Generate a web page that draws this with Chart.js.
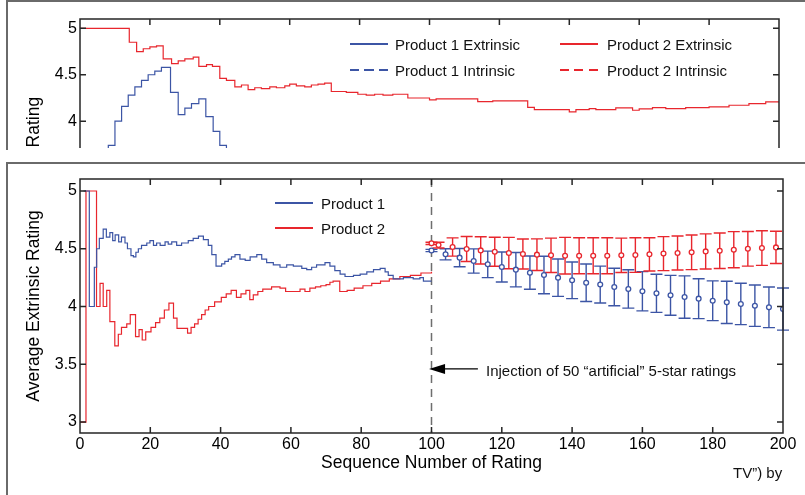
<!DOCTYPE html>
<html>
<head>
<meta charset="utf-8">
<script src="https://cdn.jsdelivr.net/npm/chart.js@4.4.1/dist/chart.umd.min.js"></script>
<style>
html, body { margin: 0; padding: 0; background: #fff; }
body { width: 805px; height: 495px; position: relative; overflow: hidden;
       font-family: "Liberation Sans", Arial, Helvetica, sans-serif; color: #111; }
.panel { position: absolute; border-left: 2px solid #6a6a6a; border-top: 2px solid #6a6a6a; }
#topPanel { left: 6px; top: 0; width: 805px; height: 148px; }
#botPanel { left: 6px; top: 162px; width: 805px; height: 340px; }
#topWrap { position: absolute; left: 0; top: 0; width: 805px; height: 148px; overflow: hidden; }
#botWrap { position: absolute; left: 0; top: 163px; width: 805px; height: 332px; }
.txt { position: absolute; font-size: 15px; line-height: 15px; white-space: nowrap; }
.sw { position: absolute; width: 38px; height: 2px; }
</style>
</head>
<body>
<div class="panel" id="topPanel"></div>
<div class="panel" id="botPanel"></div>
<div id="topWrap"><canvas id="topChart" width="805" height="310"></canvas></div>
<div id="botWrap"><canvas id="botChart" width="805" height="332"></canvas></div>

<!-- top legend -->
<div class="sw" style="left:350px;top:43px;background:#3c55a5"></div>
<div class="txt" style="left:395px;top:37px">Product 1 Extrinsic</div>
<div class="sw" style="left:350px;top:69px;background:repeating-linear-gradient(to right,#3c55a5 0 9px,transparent 9px 14.5px)"></div>
<div class="txt" style="left:395px;top:63px">Product 1 Intrinsic</div>
<div class="sw" style="left:560px;top:43px;background:#e8262d"></div>
<div class="txt" style="left:607px;top:37px">Product 2 Extrinsic</div>
<div class="sw" style="left:560px;top:69px;background:repeating-linear-gradient(to right,#e8262d 0 9px,transparent 9px 14.5px)"></div>
<div class="txt" style="left:607px;top:63px">Product 2 Intrinsic</div>

<!-- bottom legend -->
<div class="sw" style="left:275px;top:202px;background:#3c55a5"></div>
<div class="txt" style="left:321px;top:196px">Product 1</div>
<div class="sw" style="left:275px;top:227px;background:#e8262d"></div>
<div class="txt" style="left:321px;top:221px">Product 2</div>

<div class="txt" style="left:486px;top:363px">Injection of 50 “artificial” 5-star ratings</div>
<div class="txt" style="left:733px;top:465px">TV”) by</div>

<script>
const BLUE = '#3c55a5';
const RED = '#e8262d';
const FONT = '"Liberation Sans", Arial, Helvetica, sans-serif';

const xTicks = [0, 20, 40, 60, 80, 100, 120, 140, 160, 180, 200];
const yTicks = [3, 3.5, 4, 4.5, 5];

// top panel: running average of all ratings
const p1SeqTop = [4, 8.1, 10.0, 11.9, 13.8, 15.7, 17.6, 19.5, 21.4, 23.3, 25.9, 28.1, 30.0, 31.9, 34.0, 36.0, 38.1, 40.0, 41.9, 44];
const p1AvgTop = [3.5, 3.74, 4.0, 4.16, 4.28, 4.37, 4.44, 4.5, 4.54, 4.58, 4.31, 4.07, 4.14, 4.19, 4.24, 4.05, 3.89, 3.74, 3.5, 3.5];
const p2SeqTop = [0, 14.1, 16.2, 18.1, 20.0, 21.9, 23.8, 26.2, 28.1, 30.0, 32.4, 34.0, 36.2, 37.9, 40.0, 41.9, 44.3, 46.2, 48.1, 50.0,
  51.9, 54.3, 56.2, 58.6, 60.0, 61.9, 64.3, 66.2, 68.1, 70.0, 71.9, 73.8, 76.2, 79.5, 81.9, 84.3, 86.7, 89.5, 91.4, 93.8,
  100.0, 101.9, 107.6, 113.8, 118.1, 128.1, 130.0, 140.0, 141.9, 145.7, 147.6, 153.3, 158.1, 160.0, 163.8, 167.6, 173.3, 180.0, 185.7, 191.4,
  196.2, 200];
const p2AvgTop = [5.0, 4.85, 4.75, 4.78, 4.8, 4.81, 4.67, 4.62, 4.65, 4.67, 4.69, 4.59, 4.61, 4.59, 4.46, 4.44, 4.37, 4.39, 4.34, 4.36,
  4.35, 4.37, 4.36, 4.38, 4.4, 4.38, 4.37, 4.39, 4.4, 4.41, 4.32, 4.32, 4.31, 4.29, 4.28, 4.29, 4.28, 4.29, 4.29, 4.25,
  4.23, 4.24, 4.24, 4.21, 4.22, 4.15, 4.125, 4.1, 4.125, 4.136, 4.125, 4.143, 4.118, 4.133, 4.147, 4.136, 4.147, 4.154, 4.172, 4.19,
  4.208, 4.21];

// bottom panel: average extrinsic rating, first 100 ratings
const p1Seq = [1, 2.65, 4.08, 4.74, 5.5, 6.6, 7.5, 8.5, 9.3, 10.0, 11.0, 11.8, 12.8, 13.5, 14.5, 15.2, 15.9, 16.6, 17.5, 19.0,
  19.9, 20.9, 21.8, 22.8, 24.2, 25.1, 26.1, 27.5, 28.9, 30.8, 32.2, 33.7, 35.1, 36.5, 37.5, 38.7, 40.3, 41.2, 42.2, 43.1,
  44.1, 45.5, 47.0, 48.4, 50.3, 51.7, 53.1, 55.0, 56.9, 58.8, 60.7, 63.1, 64.5, 65.9, 67.3, 69.7, 71.1, 72.5, 74.0, 75.4,
  77.8, 79.7, 81.6, 83.5, 85.4, 86.8, 87.7, 89.1, 92.0, 94.8, 96.7, 97.7, 100];
const p1Avg = [5.0, 4.0, 4.34, 4.5, 4.59, 4.67, 4.6, 4.64, 4.57, 4.62, 4.56, 4.6, 4.55, 4.5, 4.44, 4.43, 4.47, 4.5, 4.53, 4.55,
  4.57, 4.53, 4.55, 4.53, 4.56, 4.54, 4.56, 4.53, 4.55, 4.57, 4.59, 4.61, 4.58, 4.53, 4.45, 4.35, 4.37, 4.39, 4.41, 4.43,
  4.45, 4.41, 4.4, 4.43, 4.45, 4.41, 4.38, 4.36, 4.34, 4.36, 4.35, 4.33, 4.32, 4.34, 4.36, 4.38, 4.35, 4.31, 4.28, 4.26,
  4.27, 4.28, 4.3, 4.32, 4.33, 4.3, 4.27, 4.24, 4.25, 4.24, 4.25, 4.22, 4.22];
const p2Seq = [0, 1.7, 4.7, 5.7, 6.6, 7.6, 8.5, 9.9, 10.9, 11.8, 13.3, 14.3, 15.8, 16.8, 17.7, 18.7, 20.2, 21.5, 22.7, 24.0,
  25.3, 26.6, 27.6, 30.6, 31.6, 32.6, 33.6, 34.6, 35.6, 36.6, 38.3, 40.2, 41.6, 43.0, 44.5, 45.8, 47.2, 48.3, 49.3, 50.6,
  52.0, 54.5, 56.9, 58.5, 62.6, 64.0, 65.4, 67.0, 68.5, 70.0, 71.1, 72.0, 73.9, 76.0, 78.0, 80.5, 83.0, 85.5, 88.0, 91.0,
  94.0, 97.0, 100];
const p2Avg = [3.0, 5.0, 4.0, 4.2, 4.0, 4.14, 3.87, 3.66, 3.76, 3.82, 3.85, 3.93, 3.74, 3.8, 3.71, 3.78, 3.82, 3.86, 3.9, 3.97,
  4.03, 3.9, 3.81, 3.77, 3.82, 3.85, 3.89, 3.93, 3.97, 4.0, 4.04, 4.08, 4.11, 4.14, 4.08, 4.11, 4.14, 4.06, 4.1, 4.13,
  4.15, 4.17, 4.16, 4.13, 4.15, 4.13, 4.16, 4.17, 4.18, 4.19, 4.21, 4.22, 4.13, 4.14, 4.16, 4.18, 4.2, 4.22, 4.24, 4.26,
  4.27, 4.29, 4.3];

// after the injection: mean and spread
const p1InjSeq = [100, 104, 108, 112, 116, 120, 124, 128, 132, 136, 140, 144, 148, 152, 156, 160, 164, 168, 172, 176, 180, 184, 188, 192, 196, 200];
const p1InjMean = [4.485, 4.452, 4.423, 4.394, 4.365, 4.342, 4.319, 4.293, 4.273, 4.25, 4.227, 4.206, 4.19, 4.169, 4.152, 4.132,
  4.114, 4.097, 4.082, 4.068, 4.05, 4.036, 4.022, 4.007, 3.993, 3.978];
const p1InjErr = [0.01, 0.048, 0.079, 0.105, 0.115, 0.13, 0.149, 0.144, 0.162, 0.162, 0.159, 0.162, 0.16, 0.162, 0.166, 0.17,
  0.165, 0.173, 0.183, 0.173, 0.172, 0.183, 0.179, 0.179, 0.176, 0.182];
const p2InjSeq = [100, 102, 106, 110, 114, 118, 122, 126, 130, 134, 138, 142, 146, 150, 154, 158, 162, 166, 170, 174, 178, 182, 186, 190, 194, 198];
const p2InjMean = [4.547, 4.532, 4.515, 4.498, 4.486, 4.474, 4.463, 4.455, 4.449, 4.443, 4.44, 4.44, 4.44, 4.44, 4.443, 4.446,
  4.452, 4.458, 4.463, 4.469, 4.477, 4.483, 4.492, 4.5, 4.506, 4.512];
const p2InjErr = [0.01, 0.025, 0.079, 0.108, 0.118, 0.126, 0.136, 0.13, 0.137, 0.149, 0.159, 0.156, 0.156, 0.156, 0.149, 0.15,
  0.144, 0.147, 0.147, 0.15, 0.152, 0.154, 0.156, 0.15, 0.15, 0.14];

const pts = (xs, ys) => xs.map((x, i) => ({ x: x, y: ys[i] }));

// box with inward ticks, dashed marker, error bars, arrow
const frame = {
    id: 'frame',
    beforeDatasetsDraw(chart, args, o) {
        const { ctx, chartArea: a, scales } = chart;
        const x = scales.x, y = scales.y;
        ctx.save();
        if (o.markAt != null) {
            const px = x.getPixelForValue(o.markAt);
            ctx.strokeStyle = '#6e6e6e';
            ctx.lineWidth = 1.5;
            ctx.setLineDash([8, 6]);
            ctx.beginPath();
            ctx.moveTo(px, a.top);
            ctx.lineTo(px, a.bottom);
            ctx.stroke();
            ctx.setLineDash([]);
        }
        chart.data.datasets.forEach(ds => {
            if (!ds.errorBars) return;
            ctx.strokeStyle = ds.borderColor;
            ctx.lineWidth = 1.4;
            ds.data.forEach((p, i) => {
                const e = ds.errorBars[i];
                const px = x.getPixelForValue(p.x);
                const hi = y.getPixelForValue(p.y + e);
                const lo = y.getPixelForValue(p.y - e);
                ctx.beginPath();
                ctx.moveTo(px, hi); ctx.lineTo(px, lo);
                ctx.moveTo(px - 6, hi); ctx.lineTo(px + 6, hi);
                ctx.moveTo(px - 6, lo); ctx.lineTo(px + 6, lo);
                ctx.stroke();
            });
        });
        ctx.restore();
    },
    afterDraw(chart, args, o) {
        const { ctx, chartArea: a, scales } = chart;
        const x = scales.x2, y = scales.y;
        ctx.save();
        ctx.strokeStyle = '#262626';
        ctx.lineWidth = 1.5;
        ctx.beginPath();
        ctx.rect(a.left, a.top, a.right - a.left, a.bottom - a.top);
        x.ticks.forEach(t => {
            const px = x.getPixelForValue(t.value);
            ctx.moveTo(px, a.top); ctx.lineTo(px, a.top + 6);
            ctx.moveTo(px, a.bottom); ctx.lineTo(px, a.bottom - 6);
        });
        y.ticks.forEach(t => {
            const py = y.getPixelForValue(t.value);
            ctx.moveTo(a.left, py); ctx.lineTo(a.left + 6, py);
            ctx.moveTo(a.right, py); ctx.lineTo(a.right - 6, py);
        });
        ctx.stroke();
        if (o.arrow) {
            const ar = o.arrow;
            const x0 = scales.x.getPixelForValue(ar.from);
            const x1 = scales.x.getPixelForValue(ar.to);
            const py = y.getPixelForValue(ar.at);
            ctx.strokeStyle = '#000';
            ctx.fillStyle = '#000';
            ctx.lineWidth = 1.3;
            ctx.beginPath();
            ctx.moveTo(x0, py); ctx.lineTo(x1 + 12, py);
            ctx.stroke();
            ctx.beginPath();
            ctx.moveTo(x1, py); ctx.lineTo(x1 + 16, py - 5); ctx.lineTo(x1 + 16, py + 5);
            ctx.closePath();
            ctx.fill();
        }
        ctx.restore();
    }
};

function stepLine(data, color) {
    return {
        data: data, borderColor: color, borderWidth: 1.2, stepped: 'before',
        pointRadius: 0, fill: false
    };
}

function axes(yMin, yMax, topH, xTitle, yTitle) {
    const tickFont = { family: FONT, size: 16 };
    const titleFont = { family: FONT, size: 17.5 };
    return {
        x: {
            type: 'linear', min: 0, max: 200, position: 'bottom', display: !!xTitle,
            afterBuildTicks: s => { s.ticks = xTicks.map(v => ({ value: v })); },
            ticks: { color: '#000', font: tickFont, padding: 2, maxRotation: 0, callback: v => String(v) },
            grid: { display: false, drawTicks: false },
            border: { display: false },
            title: { display: !!xTitle, text: xTitle, color: '#000', font: titleFont, padding: { top: 2, bottom: 4 } },
            afterFit: s => { s.height = xTitle ? 45 : 0; }
        },
        x2: {
            type: 'linear', min: 0, max: 200, position: 'top',
            afterBuildTicks: s => { s.ticks = xTicks.map(v => ({ value: v })); },
            ticks: { display: false },
            grid: { display: false, drawTicks: false },
            border: { display: false },
            afterFit: s => { s.height = topH; }
        },
        y: {
            min: yMin, max: yMax,
            afterBuildTicks: s => { s.ticks = yTicks.map(v => ({ value: v })); },
            ticks: { color: '#000', font: tickFont, padding: 3, callback: v => String(v) },
            grid: { display: false, drawTicks: false },
            border: { display: false },
            title: { display: true, text: yTitle, color: '#000', font: titleFont, padding: { top: 4, bottom: 4 } },
            afterFit: s => { s.width = 60; }
        }
    };
}

new Chart(document.getElementById('topChart'), {
    type: 'line',
    data: {
        datasets: [
            stepLine(pts(p1SeqTop, p1AvgTop), BLUE),
            stepLine(pts(p2SeqTop, p2AvgTop), RED)
        ]
    },
    options: {
        responsive: false, animation: false,
        layout: { padding: { left: 20, right: 26, top: 0, bottom: 15 } },
        scales: axes(2.13, 5.1, 19, '', 'Average Rating'),
        plugins: { legend: { display: false }, tooltip: { enabled: false }, frame: {} }
    },
    plugins: [frame]
});

new Chart(document.getElementById('botChart'), {
    type: 'line',
    data: {
        datasets: [
            stepLine(pts(p1Seq, p1Avg), BLUE),
            stepLine(pts(p2Seq, p2Avg), RED),
            {
                data: pts(p1InjSeq, p1InjMean), errorBars: p1InjErr, showLine: false,
                borderColor: BLUE, backgroundColor: '#fff', pointRadius: 2.4, pointBorderWidth: 1.3
            },
            {
                data: pts(p2InjSeq, p2InjMean), errorBars: p2InjErr, showLine: false,
                borderColor: RED, backgroundColor: '#fff', pointRadius: 2.4, pointBorderWidth: 1.3
            }
        ]
    },
    options: {
        responsive: false, animation: false,
        layout: { padding: { left: 20, right: 22, top: 0, bottom: 17 } },
        scales: axes(2.905, 5.104, 16, 'Sequence Number of Rating', 'Average Extrinsic Rating'),
        plugins: {
            legend: { display: false }, tooltip: { enabled: false },
            frame: { markAt: 100, arrow: { from: 113.2, to: 99.3, at: 3.46 } }
        }
    },
    plugins: [frame]
});
</script>
</body>
</html>
